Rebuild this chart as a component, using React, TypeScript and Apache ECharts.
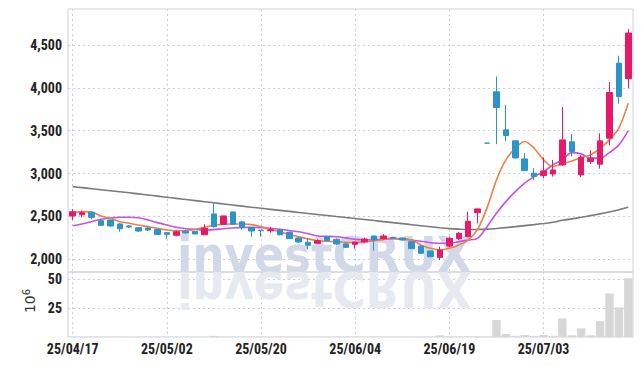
import React, { useEffect, useRef } from 'react';
import * as echarts from 'echarts';

const dates = [
  '25/04/17', '25/04/18', '25/04/21', '25/04/22', '25/04/23', '25/04/24', '25/04/25', '25/04/28', '25/04/29', '25/04/30',
  '25/05/02', '25/05/07', '25/05/08', '25/05/09', '25/05/12', '25/05/13', '25/05/14', '25/05/15', '25/05/16', '25/05/19',
  '25/05/20', '25/05/21', '25/05/22', '25/05/23', '25/05/26', '25/05/27', '25/05/28', '25/05/29', '25/05/30', '25/06/02',
  '25/06/04', '25/06/05', '25/06/09', '25/06/10', '25/06/11', '25/06/12', '25/06/13', '25/06/16', '25/06/17', '25/06/18',
  '25/06/19', '25/06/20', '25/06/23', '25/06/24', '25/06/25', '25/06/26', '25/06/27', '25/06/30', '25/07/01', '25/07/02',
  '25/07/03', '25/07/04', '25/07/07', '25/07/08', '25/07/09', '25/07/10', '25/07/11', '25/07/14', '25/07/15', '25/07/16',
];

const opens = [
  2505, 2520, 2549, 2451, 2459, 2412, 2389, 2369, 2366, 2350,
  2311, 2280, 2327, 2327, 2287, 2529, 2409, 2552, 2436, 2369,
  2340, 2334, 2342, 2315, 2249, 2199, 2187, 2264, 2233, 2179,
  2175, 2202, 2272, 2241, 2256, 2249, 2206, 2155, 2097, 2023,
  2155, 2241, 2264, 2544, 3355, 3954, 3510, 3382, 3171, 3004,
  2977, 2996, 3101, 3370, 2985, 3140, 3110, 3413, 4289, 4109,
];
const closes = [
  2555, 2544, 2490, 2397, 2389, 2357, 2377, 2330, 2342, 2290,
  2292, 2322, 2306, 2296, 2362, 2381, 2506, 2409, 2369, 2330,
  2334, 2345, 2287, 2241, 2202, 2164, 2217, 2217, 2179, 2140,
  2202, 2237, 2225, 2272, 2245, 2225, 2124, 2070, 2030, 2109,
  2245, 2303, 2444, 2588, 3355, 3771, 3444, 3183, 3035, 2965,
  3031, 3043, 3393, 3257, 3191, 3180, 3382, 3946, 3899, 4640,
];
const lows = [
  2460, 2490, 2467, 2389, 2381, 2322, 2365, 2320, 2330, 2288,
  2240, 2268, 2300, 2292, 2285, 2370, 2405, 2405, 2346, 2264,
  2264, 2310, 2278, 2238, 2190, 2122, 2185, 2212, 2170, 2132,
  2124, 2195, 2101, 2230, 2238, 2220, 2120, 2066, 2025, 1992,
  2140, 2225, 2260, 2420, 3355, 3343, 3378, 3175, 3030, 2926,
  2946, 2965, 3090, 3199, 2960, 3113, 3058, 3328, 3814, 3997,
];
const highs = [
  2585, 2568, 2555, 2455, 2462, 2420, 2400, 2372, 2375, 2352,
  2315, 2334, 2345, 2330, 2409, 2654, 2510, 2556, 2447, 2372,
  2342, 2380, 2357, 2318, 2260, 2245, 2233, 2272, 2245, 2195,
  2205, 2252, 2276, 2295, 2262, 2254, 2210, 2160, 2100, 2147,
  2264, 2320, 2556, 2592, 3355, 4133, 3802, 3385, 3238, 3063,
  3191, 3160, 3775, 3463, 3215, 3273, 3471, 4067, 4375, 4686,
];

// volume in millions of shares
const volumes = [
  0.3, 0.3, 0.3, 0.3, 0.3, 0.3, 0.3, 0.3, 0.3, 0.3,
  0.3, 0.3, 0.3, 0.3, 0.3, 1.0, 0.3, 0.3, 0.3, 0.3,
  0.3, 0.3, 0.3, 0.3, 0.3, 0.3, 0.3, 0.3, 0.3, 0.3,
  0.3, 0.3, 0.3, 0.3, 0.3, 0.3, 0.3, 0.3, 0.3, 1.5,
  0.5, 0.4, 0.5, 0.5, 0.4, 14.6, 2.6, 1.0, 1.7, 1.0,
  1.7, 1.0, 16.0, 1.5, 7.4, 1.5, 13.7, 37.5, 25.5, 50.6,
];

const maLong = [
  2848, 2836, 2824, 2812, 2800, 2788, 2776, 2763, 2750, 2737,
  2724, 2711, 2698, 2685, 2672, 2659, 2646, 2633, 2620, 2607,
  2595, 2583, 2571, 2559, 2547, 2535, 2523, 2511, 2499, 2488,
  2476, 2464, 2452, 2440, 2428, 2416, 2404, 2392, 2380, 2368,
  2358, 2352, 2348, 2348, 2352, 2360, 2370, 2381, 2393, 2405,
  2418, 2432, 2455, 2472, 2490, 2510, 2530, 2552, 2578, 2607,
];
const maShort = [
  2540, 2556, 2552, 2506, 2479, 2439, 2420, 2400, 2381, 2362,
  2342, 2334, 2334, 2348, 2373, 2397, 2409, 2412, 2412, 2405,
  2381, 2350, 2322, 2290, 2264, 2238, 2217, 2210, 2206, 2198,
  2194, 2205, 2217, 2232, 2245, 2240, 2225, 2167, 2128, 2109,
  2128, 2167, 2225, 2350, 2600, 2926, 3160, 3296, 3374, 3296,
  3160, 3082, 3113, 3148, 3187, 3218, 3296, 3393, 3530, 3822,
];
const maMid = [
  2392, 2412, 2439, 2467, 2482, 2490, 2490, 2484, 2459, 2428,
  2400, 2373, 2357, 2350, 2342, 2346, 2357, 2366, 2372, 2373,
  2370, 2362, 2350, 2335, 2322, 2298, 2272, 2268, 2264, 2250,
  2233, 2228, 2225, 2235, 2241, 2235, 2225, 2210, 2194, 2187,
  2187, 2206, 2225, 2245, 2381, 2537, 2673, 2790, 2888, 2965,
  3023, 3101, 3160, 3245, 3230, 3180, 3180, 3245, 3335, 3502,
];

const priceTicks = [2000, 2500, 3000, 3500, 4000, 4500];
const volumeTicks = [25, 50];
const dateTicks = [0, 10, 20, 30, 40, 50];

const UP = '#e8196a';
const DOWN = '#2b94c8';
const FONT = "'Roboto Condensed', 'Liberation Sans Narrow', 'Liberation Sans', sans-serif";
const WM_FONT = "bold 50px 'DejaVu Sans Condensed', 'DejaVu Sans', sans-serif";
const GRID_COLOR = '#c9cde0';

export default function App() {
  const ref = useRef<HTMLDivElement>(null);

  useEffect(() => {
    if (!ref.current) return;
    const chart = echarts.init(ref.current, null, { renderer: 'svg' });

    const candleData = dates.map((_, i) => {
      const v = [i, opens[i], closes[i], lows[i], highs[i]];
      if (opens[i] === closes[i]) {
        return {
          value: v,
          itemStyle: { color: DOWN, color0: DOWN, borderColor: DOWN, borderColor0: DOWN, borderColorDoji: DOWN },
        };
      }
      return v;
    });

    const splitLine = { show: true, lineStyle: { color: GRID_COLOR, width: 1, type: [2, 3] as any } };
    const labelStyle = { fontFamily: FONT, fontSize: 14, fontWeight: 'bold' as const, color: '#222' };

    const option: any = {
      animation: false,
      backgroundColor: '#fff',
      grid: [
        { left: 68, right: 9, top: 9, height: 263, show: true, borderColor: '#cfd2dc', borderWidth: 1, outerBoundsMode: 'none' },
        { left: 68, right: 9, top: 272, height: 65, show: true, borderColor: '#cfd2dc', borderWidth: 1, outerBoundsMode: 'none' },
      ],
      xAxis: [
        {
          type: 'value', gridIndex: 0, min: -0.5, max: 59.5,
          axisLine: { show: false },
          axisTick: { show: false, customValues: dateTicks },
          axisLabel: { show: false, customValues: dateTicks },
          splitLine,
        },
        {
          type: 'value', gridIndex: 1, min: -0.5, max: 59.5,
          axisLine: { show: false },
          axisTick: { show: false, customValues: dateTicks },
          axisLabel: {
            show: true, customValues: dateTicks, margin: 5, ...labelStyle,
            formatter: (v: number) => dates[Math.round(v)] ?? '',
          },
          splitLine,
        },
      ],
      yAxis: [
        {
          type: 'value', gridIndex: 0, min: 1852, max: 4920,
          axisLine: { show: false },
          axisTick: { show: false, customValues: priceTicks },
          axisLabel: {
            customValues: priceTicks, margin: 6, ...labelStyle,
            formatter: (v: number) => v.toLocaleString('en-US'),
          },
          splitLine,
        },
        {
          type: 'value', gridIndex: 1, min: 0, max: 56,
          axisLine: { show: false },
          axisTick: { show: false, customValues: volumeTicks },
          axisLabel: { customValues: volumeTicks, margin: 6, ...labelStyle },
          splitLine,
        },
      ],
      graphic: [
        {
          type: 'text', x: 177, y: 230, z: 1, silent: true,
          style: { text: 'investCRUX', font: WM_FONT, fill: '#d3d8e8', align: 'left', verticalAlign: 'top' },
        },
        {
          type: 'text', x: 177, y: 314, scaleY: -1, z: 1, silent: true,
          style: { text: 'investCRUX', font: WM_FONT, fill: '#e7e9f0', align: 'left', verticalAlign: 'top' },
        },
        {
          type: 'text', x: 30, y: 301, rotation: Math.PI / 2, z: 5,
          style: {
            text: '{a|10}{b|6}', align: 'center', verticalAlign: 'middle',
            rich: {
              a: { fontFamily: "'DejaVu Sans', sans-serif", fontSize: 14, fill: '#333' },
              b: { fontFamily: "'DejaVu Sans', sans-serif", fontSize: 10, fill: '#333', verticalAlign: 'top', padding: [0, 0, 8, 0] },
            },
          },
        },
      ],
      series: [
        {
          type: 'bar', name: 'Volume', xAxisIndex: 1, yAxisIndex: 1,
          data: volumes.map((v, i) => [i, v]),
          barWidth: 8.4,
          itemStyle: { color: '#d7d7d7' },
        },
        {
          type: 'line', name: 'MA long', xAxisIndex: 0, yAxisIndex: 0,
          data: maLong.map((v, i) => [i, v]), showSymbol: false, smooth: 0.3, z: 3,
          lineStyle: { color: '#7a7a7a', width: 1.6 },
        },
        {
          type: 'line', name: 'MA mid', xAxisIndex: 0, yAxisIndex: 0,
          data: maMid.map((v, i) => [i, v]), showSymbol: false, smooth: 0.3, z: 3,
          lineStyle: { color: '#c452ea', width: 1.6 },
        },
        {
          type: 'line', name: 'MA short', xAxisIndex: 0, yAxisIndex: 0,
          data: maShort.map((v, i) => [i, v]), showSymbol: false, smooth: 0.3, z: 3,
          lineStyle: { color: '#ee8045', width: 1.6 },
        },
        {
          type: 'candlestick', name: 'Price', xAxisIndex: 0, yAxisIndex: 0,
          data: candleData, encode: { x: 0, y: [1, 2, 3, 4] },
          barWidth: 6, z: 4,
          itemStyle: { color: UP, color0: DOWN, borderColor: UP, borderColor0: DOWN, borderWidth: 1 },
        },
      ],
    };

    chart.setOption(option);
    return () => chart.dispose();
  }, []);

  return <div ref={ref} style={{ position: 'absolute', left: 0, top: 0, width: 642, height: 366 }} />;
}
